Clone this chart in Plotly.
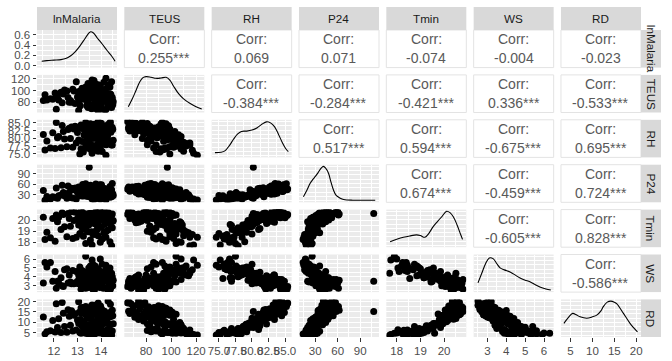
import plotly.graph_objects as go

# ---------------- data ----------------
lnMalaria = [13.62, 12.05, 14.21, 13.35, 13.88, 11.62, 14.45, 13.10, 13.97, 12.80,
             13.45, 14.05, 12.30, 13.70, 14.38, 13.25, 13.80, 11.85, 14.12, 13.55,
             13.92, 12.55, 14.30, 13.15, 13.65, 14.48, 12.95, 13.40, 11.70, 13.85,
             13.50, 14.22, 13.05, 13.75, 12.15, 14.00, 13.30, 14.40, 13.60, 12.70,
             13.95, 13.20, 14.28, 13.48, 11.95, 13.78, 14.52, 13.35, 13.68, 12.45,
             13.58, 14.15, 13.00, 13.88, 14.35, 13.28, 12.20, 13.72, 14.08, 13.42,
             13.82, 13.12, 14.42, 13.52, 12.85, 13.98, 13.38, 14.18, 13.62, 11.55,
             13.90, 13.45, 14.25, 12.65, 13.70, 14.50, 13.18, 13.85, 14.02, 12.40,
             13.60, 14.32, 13.08, 13.92, 13.40, 14.10, 12.90, 13.75, 14.45, 13.30,
             13.55, 14.20, 12.75, 13.65, 14.38, 13.25, 13.95, 13.48, 14.08, 13.80,
             13.35, 14.15, 13.72, 12.60, 13.98, 14.48, 13.15, 13.62, 14.02, 13.50,
             13.88, 13.22, 14.30, 13.60, 12.10, 13.78, 14.40, 13.05, 13.95, 12.35]
TEUS = [118, 96, 121, 104, 110, 93, 115, 99, 108, 102,
        112, 88, 97, 117, 106, 91, 101, 86, 114, 95,
        83, 99, 110, 92, 104, 88, 115, 95, 84, 107,
        108, 81, 97, 112, 89, 102, 86, 94, 110, 83,
        78, 104, 92, 109, 85, 98, 81, 106, 88, 101,
        75, 100, 89, 107, 80, 95, 84, 103, 91, 77,
        104, 74, 93, 86, 99, 79, 90, 102, 72, 83,
        97, 71, 88, 80, 101, 76, 92, 85, 73, 94,
        69, 95, 82, 99, 74, 88, 78, 91, 71, 85,
        96, 67, 80, 90, 72, 86, 98, 75, 83, 69,
        93, 66, 78, 88, 70, 84, 95, 73, 81, 97,
        65, 87, 74, 90, 68, 82, 77, 66, 92, 79]
RH = [75.2, 76.8, 74.6, 77.5, 75.9, 76.3, 77.9, 75.0, 76.6, 77.2,
      78.4, 75.8, 77.0, 76.2, 78.9, 75.6, 77.7, 76.9, 78.1, 76.5,
      79.6, 77.3, 78.8, 76.7, 80.0, 77.9, 78.5, 76.9, 79.2, 78.0,
      80.6, 78.0, 79.5, 77.6, 80.2, 78.7, 81.0, 79.1, 77.9, 80.0,
      81.5, 79.0, 80.8, 78.6, 81.8, 80.1, 79.4, 81.2, 80.5, 79.8,
      82.5, 80.2, 81.9, 79.7, 82.9, 81.1, 80.6, 82.2, 81.4, 80.0,
      81.0, 83.4, 82.0, 80.7, 83.0, 81.6, 82.7, 80.9, 82.3, 81.3,
      83.8, 81.2, 82.6, 83.3, 81.7, 82.9, 84.0, 81.5, 83.1, 82.2,
      84.3, 82.0, 83.5, 81.8, 84.5, 82.8, 83.9, 82.3, 83.6, 82.6,
      84.7, 82.4, 83.7, 82.1, 84.9, 83.2, 84.1, 82.7, 83.9, 84.4,
      85.2, 83.0, 84.6, 82.9, 85.0, 83.5, 84.3, 83.2, 84.8, 80.2,
      85.4, 83.4, 84.5, 83.8, 85.1, 84.0, 85.3, 83.6, 84.7, 84.2]
P24 = [18, 22, 15, 26, 20, 14, 24, 28, 17, 21,
       25, 19, 29, 16, 23, 27, 21, 18, 30, 24,
       31, 20, 26, 33, 22, 28, 18, 30, 25, 21,
       34, 23, 29, 36, 20, 27, 32, 25, 30, 22,
       38, 26, 35, 30, 24, 40, 28, 33, 37, 27,
       42, 29, 36, 44, 31, 39, 27, 34, 41, 33,
       46, 32, 40, 35, 44, 30, 38, 47, 36, 42,
       34, 48, 41, 37, 50, 33, 45, 39, 43, 36,
       52, 36, 47, 41, 54, 38, 49, 34, 44, 51,
       57, 40, 48, 36, 53, 44, 58, 38, 50, 42,
       61, 45, 39, 55, 48, 62, 42, 52, 58, 108,
       46, 59, 41, 55, 49, 60, 44, 52, 40, 57]
Tmin = [17.75, 18.10, 18.45, 17.90, 18.60, 18.25, 17.70, 18.80, 18.00, 18.35,
        18.95, 18.30, 19.15, 18.70, 18.05, 18.55, 19.05, 18.40, 18.85, 18.20,
        19.45, 18.50, 19.10, 19.60, 18.75, 19.30, 18.45, 19.50, 18.90, 19.20,
        19.75, 19.00, 19.55, 18.85, 19.85, 19.35, 19.15, 19.65, 18.95, 19.45,
        20.05, 19.30, 19.80, 19.55, 20.15, 19.65, 19.95, 19.25, 20.10, 19.40,
        20.30, 19.60, 20.15, 19.85, 20.40, 19.95, 20.25, 19.70, 20.05, 20.35,
        20.45, 19.80, 20.20, 20.50, 19.95, 20.30, 20.05, 20.40, 19.75, 20.25,
        20.55, 20.00, 20.35, 20.15, 20.60, 19.90, 20.45, 20.25, 20.10, 20.50,
        20.20, 20.65, 20.40, 20.05, 20.55, 20.30, 20.70, 20.10, 20.45, 20.25,
        20.60, 20.15, 20.75, 20.35, 20.50, 20.20, 20.80, 20.40, 20.25, 20.65,
        20.45, 20.75, 20.30, 20.60, 20.20, 20.55, 20.80, 20.35, 20.65, 20.60,
        20.50, 20.70, 20.35, 20.60, 20.45, 20.75, 20.40, 20.55, 20.30, 20.65]
WS = [5.9, 4.6, 5.3, 6.3, 4.9, 5.6, 4.4, 5.1, 6.0, 4.7,
      4.2, 5.4, 3.9, 4.8, 5.0, 3.8, 4.5, 5.6, 4.1, 5.2,
      3.6, 4.9, 4.3, 3.9, 5.4, 4.0, 4.6, 3.5, 5.1, 4.4,
      3.7, 4.9, 4.2, 5.2, 3.5, 4.6, 3.9, 4.4, 5.0, 3.4,
      3.3, 4.7, 3.8, 5.0, 3.5, 4.2, 3.6, 4.5, 3.9, 4.8,
      3.1, 4.4, 3.5, 4.6, 3.0, 3.9, 3.3, 4.1, 3.7, 3.2,
      3.4, 4.2, 3.0, 4.4, 3.2, 3.8, 2.9, 3.6, 4.0, 3.3,
      3.1, 3.9, 2.8, 4.2, 3.4, 3.0, 3.7, 3.2, 4.0, 2.9,
      3.5, 2.8, 3.9, 3.0, 3.7, 2.7, 3.3, 4.0, 3.1, 3.6,
      2.9, 3.8, 3.2, 2.6, 3.5, 3.0, 3.7, 2.8, 3.4, 3.1,
      2.7, 3.5, 2.5, 3.3, 2.9, 3.6, 2.6, 3.1, 3.0, 3.5,
      2.9, 3.4, 2.5, 3.1, 2.7, 3.3, 2.6, 3.2, 2.8, 3.0]
RD = [4.1, 5.2, 3.8, 4.6, 5.6, 4.3, 3.7, 5.0, 4.8, 5.8,
      4.4, 6.1, 5.0, 4.0, 6.4, 5.5, 4.7, 5.9, 4.2, 5.3,
      7.4, 5.1, 6.6, 4.6, 7.9, 5.7, 6.2, 7.0, 5.4, 6.8,
      8.8, 6.0, 9.4, 5.6, 7.5, 8.1, 6.5, 9.0, 7.0, 8.5,
      10.6, 8.0, 9.7, 7.6, 10.9, 8.8, 9.3, 8.3, 10.2, 7.9,
      12.2, 9.4, 11.1, 9.9, 12.5, 10.4, 11.7, 9.1, 10.8, 12.0,
      13.9, 11.3, 12.8, 11.8, 13.4, 12.3, 13.1, 11.5, 14.0, 12.6,
      14.6, 12.4, 13.7, 12.9, 14.9, 13.2, 14.2, 12.1, 13.5, 14.4,
      15.5, 13.6, 14.8, 15.9, 13.2, 15.1, 14.1, 15.7, 13.8, 14.5,
      16.8, 14.3, 15.6, 16.2, 14.7, 17.0, 15.2, 16.5, 14.9, 15.9,
      17.6, 15.3, 18.2, 16.1, 17.9, 15.8, 16.9, 18.4, 16.5, 15.2,
      19.4, 17.2, 20.3, 18.0, 19.0, 17.5, 18.7, 20.0, 16.9, 19.6]

var_names = ["lnMalaria", "TEUS", "RH", "P24", "Tmin", "WS", "RD"]

# correlation labels of the upper triangle, row by row
corr_row1 = ["0.255***", "0.069", "0.071", "-0.074", "-0.004", "-0.023"]
corr_row2 = ["-0.384***", "-0.284***", "-0.421***", "0.336***", "-0.533***"]
corr_row3 = ["0.517***", "0.594***", "-0.675***", "0.695***"]
corr_row4 = ["0.674***", "-0.459***", "0.724***"]
corr_row5 = ["-0.605***", "0.828***"]
corr_row6 = ["-0.586***"]

# density curves on the diagonal (x, height)
dens_x_lnMalaria = [11.48, 11.7, 12.0, 12.3, 12.5, 12.7, 12.9, 13.1, 13.3, 13.45, 13.56, 13.68, 13.85, 14.05, 14.25, 14.45, 14.6]
dens_y_lnMalaria = [0.09, 0.10, 0.11, 0.12, 0.14, 0.19, 0.27, 0.38, 0.51, 0.61, 0.655, 0.63, 0.53, 0.42, 0.30, 0.19, 0.09]
dens_x_TEUS = [65.8, 69, 72, 75, 77.5, 80, 84, 88, 92, 96, 99, 102, 106, 110, 115, 120, 124.5]
dens_y_TEUS = [0.12, 0.35, 0.6, 0.85, 0.97, 1.0, 0.98, 0.95, 0.96, 0.98, 0.9, 0.72, 0.5, 0.35, 0.22, 0.12, 0.05]
dens_x_RH = [74.4, 75.3, 75.9, 76.6, 77.2, 77.8, 78.4, 79.2, 80.0, 80.8, 81.5, 82.2, 82.8, 83.4, 84.0, 84.6, 85.2, 85.5]
dens_y_RH = [0.09, 0.10, 0.14, 0.30, 0.48, 0.63, 0.71, 0.72, 0.75, 0.82, 0.92, 0.99, 0.96, 0.85, 0.63, 0.38, 0.18, 0.12]
dens_x_P24 = [14.4, 19, 23.4, 27, 30, 34, 38, 41, 44, 47.8, 51, 54.4, 58, 63.4, 68, 72.3, 80, 90, 100, 110]
dens_y_P24 = [0.11, 0.3, 0.51, 0.62, 0.70, 0.82, 0.95, 1.0, 0.95, 0.80, 0.55, 0.31, 0.15, 0.07, 0.03, 0.017, 0.012, 0.01, 0.012, 0.01]
dens_x_Tmin = [17.72, 18.0, 18.28, 18.55, 18.84, 19.0, 19.19, 19.35, 19.54, 19.72, 19.9, 20.11, 20.25, 20.39, 20.55, 20.7, 20.78]
dens_y_Tmin = [0.11, 0.18, 0.24, 0.28, 0.31, 0.29, 0.24, 0.35, 0.55, 0.70, 0.84, 1.0, 0.96, 0.84, 0.6, 0.32, 0.18]
dens_x_WS = [2.5, 2.7, 2.9, 3.1, 3.3, 3.5, 3.67, 3.9, 4.2, 4.5, 4.73, 5.0, 5.25, 5.5, 5.78, 6.1, 6.36]
dens_y_WS = [0.22, 0.5, 0.78, 0.95, 0.93, 0.78, 0.66, 0.6, 0.54, 0.44, 0.36, 0.3, 0.25, 0.18, 0.10, 0.04, 0.01]
dens_x_RD = [3.5, 4.5, 5.5, 6.3, 7.2, 8.7, 10.0, 11.0, 12.0, 12.5, 13.4, 14.2, 15.0, 15.6, 17.1, 18.6, 20.3]
dens_y_RD = [0.35, 0.52, 0.64, 0.60, 0.54, 0.50, 0.54, 0.59, 0.72, 0.84, 0.97, 1.0, 0.97, 0.92, 0.64, 0.35, 0.10]

# axis ticks per variable
ticks_lnMalaria = [12, 13, 14]
ticks_TEUS = [80, 100, 120]
ticks_RH = [75.0, 77.5, 80.0, 82.5, 85.0]
ticks_P24 = [30, 60, 90]
ticks_Tmin = [18, 19, 20]
ticks_WS = [3, 4, 5, 6]
ticks_RD = [5, 10, 15, 20]
ticklabels_RH = ["75.0", "77.5", "80.0", "82.5", "85.0"]
ticks_density = [0.0, 0.2, 0.4, 0.6]
ticklabels_density = ["0.0", "0.2", "0.4", "0.6"]

# ---------------- styling / layout ----------------
FONT = "Liberation Sans, Arial, sans-serif"
W, H = 672, 361
ML, MR, MT, MB = 37, 31, 30, 24
PW, PH = W - ML - MR, H - MT - MB
COLW, COLSTEP = 80.0, 87.33
ROWH, ROWSTEP = 37.6, 44.9

data = [lnMalaria, TEUS, RH, P24, Tmin, WS, RD]
dens = [(dens_x_lnMalaria, dens_y_lnMalaria), (dens_x_TEUS, dens_y_TEUS), (dens_x_RH, dens_y_RH),
        (dens_x_P24, dens_y_P24), (dens_x_Tmin, dens_y_Tmin), (dens_x_WS, dens_y_WS), (dens_x_RD, dens_y_RD)]
ranges = [[11.28, 14.68], [62.6, 126.6], [73.9, 86.0], [8.5, 115.0], [17.56, 20.94], [2.27, 6.51], [2.83, 21.1]]
major = [ticks_lnMalaria, ticks_TEUS, ticks_RH, ticks_P24, ticks_Tmin, ticks_WS, ticks_RD]
majortext = [[str(v) for v in ticks_lnMalaria], [str(v) for v in ticks_TEUS], ticklabels_RH,
             [str(v) for v in ticks_P24], [str(v) for v in ticks_Tmin], [str(v) for v in ticks_WS],
             [str(v) for v in ticks_RD]]
minor = [[11.5, 12.5, 13.5, 14.5], [70, 90, 110], [76.25, 78.75, 81.25, 83.75],
         [15, 45, 75, 105], [17.5, 18.5, 19.5, 20.5], [2.5, 3.5, 4.5, 5.5, 6.5], [2.5, 7.5, 12.5, 17.5]]
corr_rows = [corr_row1, corr_row2, corr_row3, corr_row4, corr_row5, corr_row6]


def xdom(c):
    x0 = c * COLSTEP
    return [x0 / PW, min(1.0, (x0 + COLW) / PW)]


def ydom(r):
    y0 = r * ROWSTEP
    return [max(0.0, 1 - (y0 + ROWH) / PH), 1 - y0 / PH]


fig = go.Figure()
layout = dict(width=W, height=H, margin=dict(l=ML, r=MR, t=MT, b=MB, autoexpand=False),
              paper_bgcolor="white", plot_bgcolor="#EBEBEB",
              showlegend=False, hovermode=False, font=dict(family=FONT))
shapes, annotations = [], []

tickfont = dict(size=11.5, color="#4D4D4D", family=FONT)
n = 0
for r in range(7):
    for c in range(7):
        if c > r:
            # correlation panel
            xd, yd = xdom(c), ydom(r)
            shapes.append(dict(type="rect", xref="paper", yref="paper", x0=xd[0], x1=xd[1], y0=yd[0], y1=yd[1],
                               fillcolor="white", line=dict(color="#E3E3E3", width=1), layer="below"))
            xc = (xd[0] + xd[1]) / 2
            yc = (yd[0] + yd[1]) / 2
            dy = 9.5 / PH
            annotations.append(dict(x=xc, y=yc + dy, xref="paper", yref="paper", text="Corr:", showarrow=False,
                                    font=dict(size=14, color="#595959", family=FONT), xanchor="center", yanchor="middle"))
            annotations.append(dict(x=xc, y=yc - dy, xref="paper", yref="paper", text=corr_rows[r][c - r - 1],
                                    showarrow=False, font=dict(size=14, color="#595959", family=FONT),
                                    xanchor="center", yanchor="middle"))
            continue
        n += 1
        sfx = "" if n == 1 else str(n)
        xa, ya = "x" + sfx, "y" + sfx
        if r == c:
            dx, dyv = dens[c]
            fig.add_trace(go.Scatter(x=dx, y=dyv, mode="lines", line=dict(color="black", width=1.1, shape="spline"),
                                     xaxis=xa, yaxis=ya))
        else:
            fig.add_trace(go.Scatter(x=data[c], y=data[r], mode="markers",
                                     marker=dict(color="black", size=7, line=dict(width=0)),
                                     xaxis=xa, yaxis=ya))
        xaxis = dict(domain=xdom(c), range=ranges[c], anchor=ya, tickvals=major[c], ticktext=majortext[c],
                     showgrid=True, gridcolor="white", gridwidth=1.3, zeroline=False, showline=False,
                     minor=dict(tickvals=minor[c], showgrid=True, gridcolor="white", gridwidth=0.6, ticks=""),
                     showticklabels=(r == 6), ticks="outside" if r == 6 else "", ticklen=3.5,
                     tickcolor="#333333", tickwidth=1, tickfont=tickfont, tickangle=0,
                     automargin=False, fixedrange=True)
        if r == c:
            if r == 0:
                yr = [-0.033, 0.688]
                ytv, ytt = ticks_density, ticklabels_density
                ymin = [0.1, 0.3, 0.5]
            else:
                yr = [-0.05, 1.05]
                ytv, ytt = [0.0, 0.25, 0.5, 0.75, 1.0], ["", "", "", "", ""]
                ymin = [0.125, 0.375, 0.625, 0.875]
        else:
            yr = ranges[r]
            ytv, ytt = major[r], majortext[r]
            ymin = minor[r]
        yaxis = dict(domain=ydom(r), range=yr, anchor=xa, tickvals=ytv, ticktext=ytt,
                     showgrid=True, gridcolor="white", gridwidth=1.3, zeroline=False, showline=False,
                     minor=dict(tickvals=ymin, showgrid=True, gridcolor="white", gridwidth=0.6, ticks=""),
                     showticklabels=(c == 0), ticks="outside" if c == 0 else "", ticklen=3.5,
                     tickcolor="#333333", tickwidth=1, tickfont=tickfont, tickangle=0,
                     automargin=False, fixedrange=True)
        layout["xaxis" + sfx] = xaxis
        layout["yaxis" + sfx] = yaxis

# strips
strip_top = 23.0 / PH
strip_right = 20.0 / PW
for i, name in enumerate(var_names):
    xd = xdom(i)
    shapes.append(dict(type="rect", xref="paper", yref="paper", x0=xd[0], x1=xd[1], y0=1.0, y1=1.0 + strip_top,
                       fillcolor="#D9D9D9", line=dict(width=0)))
    annotations.append(dict(x=(xd[0] + xd[1]) / 2, y=1.0 + strip_top / 2, xref="paper", yref="paper", text=name,
                            showarrow=False, font=dict(size=11.7, color="#1A1A1A", family=FONT),
                            xanchor="center", yanchor="middle"))
    yd = ydom(i)
    shapes.append(dict(type="rect", xref="paper", yref="paper", x0=1.0, x1=1.0 + strip_right, y0=yd[0], y1=yd[1],
                       fillcolor="#D9D9D9", line=dict(width=0)))
    annotations.append(dict(x=1.0 + strip_right / 2, y=(yd[0] + yd[1]) / 2, xref="paper", yref="paper", text=name,
                            showarrow=False, textangle=90, font=dict(size=11.7, color="#1A1A1A", family=FONT),
                            xanchor="center", yanchor="middle"))

layout["shapes"] = shapes
layout["annotations"] = annotations
fig.update_layout(**layout)
fig.write_html("out.html", config={"displayModeBar": False},
               post_script="document.body.style.margin='0px';document.body.style.overflow='hidden';")
